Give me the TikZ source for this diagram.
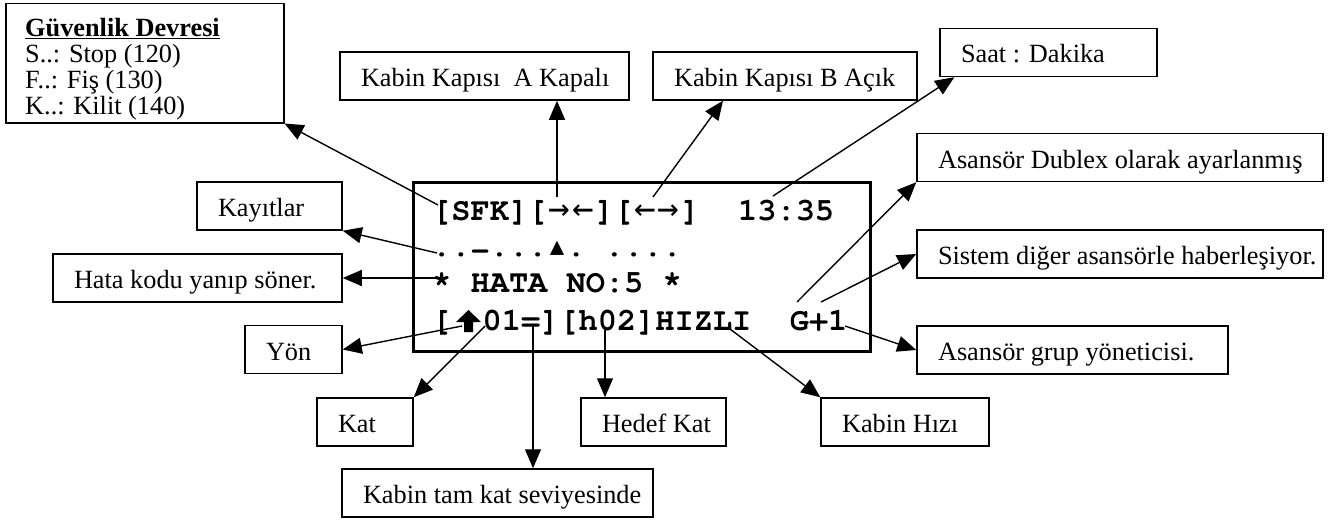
\documentclass[tikz,border=0pt]{standalone}
\usepackage{fontspec}
\setmainfont{Liberation Serif}
\newfontfamily\lcdfont{texgyrecursor}[Extension=.otf, UprightFont=*-regular, BoldFont=*-bold]
\newfontfamily\lcdsym{DejaVu Sans Mono}
\usetikzlibrary{arrows.meta}
\newcommand\lcdarrow[1]{\makebox[23.7pt]{\lcdsym\mdseries\fontsize{36}{36}\selectfont #1}}
\newcommand\lcdtri{\makebox[19.2pt]{\raisebox{2pt}{\lcdsym\fontsize{24}{24}\selectfont ▲}}}
\newcommand\lcdsp{\hspace*{19.2pt}}
\newcommand\lcdhy{\raisebox{-4pt}{-}}
\newcommand\bxt[2]{\makebox[#1pt][l]{#2}}
\begin{document}
\begin{tikzpicture}[x=1pt,y=-1pt,
  lbl/.style={draw, line width=1.5pt, inner xsep=21pt, inner ysep=0pt,
    minimum height=48pt, text height=21pt, text depth=0pt,
    font=\fontsize{26.3}{26.3}\selectfont},
  conn/.style={line width=1.4pt, -{Triangle[length=19pt,width=16pt]}},
  lcd/.style={inner sep=0pt, anchor=base west,
    font=\lcdfont\bfseries\fontsize{32}{32}\selectfont}]
\useasboundingbox (0,0) rectangle (1337,519);

% display
\node[draw, line width=3pt, minimum width=457pt, minimum height=169pt, inner sep=0pt] (lcd) at (641.5,266.5) {};
\node[lcd] (l1) at (432,220) {[SFK][\lcdarrow{→}\lcdarrow{←}][\lcdarrow{←}\lcdarrow{→}]\lcdsp\lcdsp 13:35};
\node[lcd] (l2) at (432,256) {..\lcdhy...\lcdtri.\lcdsp....};
\node[lcd] (l3) at (432,292) {*\lcdsp HATA\lcdsp NO:5\lcdsp *};
\node[lcd] (l4a) at (432,330) {[};
\node[lcd] (l4b) at (482.4,330) {01=][h02]HIZLI\lcdsp\lcdsp G+1};
\fill (456,322) -- (468.5,310) -- (481,322) -- (473,322) -- (473,332) -- (464,332) -- (464,322) -- cycle;

% Güvenlik box
\node[draw, line width=1.5pt, anchor=north west, inner sep=0pt, minimum width=278pt, minimum height=119pt] (guv) at (5,3) {};
\node[anchor=north west, inner sep=0pt, align=left, font=\fontsize{26.3}{26}\selectfont] (guvtxt) at (25,18)
  {\textbf{\underline{Güvenlik Devresi}}\\S..: Stop (120)\\F..: Fiş (130)\\K..: Kilit (140)};

% label boxes
\node[lbl] (kapA) at (484.5,76) {\bxt{247}{Kabin Kapısı\ \ A Kapalı}};
\node[lbl] (kapB) at (785,76) {\bxt{222}{Kabin Kapısı B Açık}};
\node[lbl] (saat) at (1048.5,52.5) {\bxt{175}{Saat : Dakika}};
\node[lbl] (dub) at (1120,157.5) {\bxt{364}{Asansör Dublex olarak ayarlanmış}};
\node[lbl] (sis) at (1120,254) {\bxt{364}{Sistem diğer asansörle haberleşiyor.}};
\node[lbl] (grup) at (1072.5,350) {\bxt{269}{Asansör grup yöneticisi.}};
\node[lbl] (hiz) at (905,422) {\bxt{126}{Kabin Hızı}};
\node[lbl] (hedef) at (653.5,422) {\bxt{103}{Hedef Kat}};
\node[lbl] (tam) at (497.5,493) {\bxt{269}{Kabin tam kat seviyesinde}};
\node[lbl] (kat) at (365,422) {\bxt{54}{Kat}};
\node[lbl] (yon) at (293.5,349.5) {\bxt{55}{Yön}};
\node[lbl] (hata) at (197.5,278) {\bxt{247}{Hata kodu yanıp söner.}};
\node[lbl] (kay) at (269.5,206) {\bxt{103}{Kayıtlar}};

% connector start points on the display
\coordinate (pSFK) at (438,205);
\coordinate (pA) at (557,197);
\coordinate (pB) at (653,197);
\coordinate (pSaat) at (773,196);
\coordinate (pKay) at (437,253);
\coordinate (pHata) at (437,278);
\coordinate (pYon) at (462,326);
\coordinate (pKat) at (485,326);
\coordinate (pTam) at (533,325);
\coordinate (pHedef) at (605,330);
\coordinate (pHiz) at (730,329);
\coordinate (pGrup) at (845,326);
\coordinate (pDub) at (797,302);
\coordinate (pSis) at (821,302);

\draw[conn] (pSFK) -- (guv.south east);
\draw[conn] (pA) -- (pA |- kapA.south);
\draw[conn] (pB) -- ([xshift=-62pt]kapB.south);
\draw[conn] (pSaat) -- ([xshift=15pt]saat.south west);
\draw[conn] (pKay) -- (kay.south east);
\draw[conn] (pHata) -- (hata.east);
\draw[conn] (pYon) -- (yon.east);
\draw[conn] (pKat) -- (kat.north east);
\draw[conn] (pTam) -- (pTam |- tam.north);
\draw[conn] (pHedef) -- (pHedef |- hedef.north);
\draw[conn] (pHiz) -- (hiz.north west);
\draw[conn] (pGrup) -- (grup.west);
\draw[conn] (pDub) -- (dub.south west);
\draw[conn] (pSis) -- (sis.west);
\end{tikzpicture}
\end{document}
